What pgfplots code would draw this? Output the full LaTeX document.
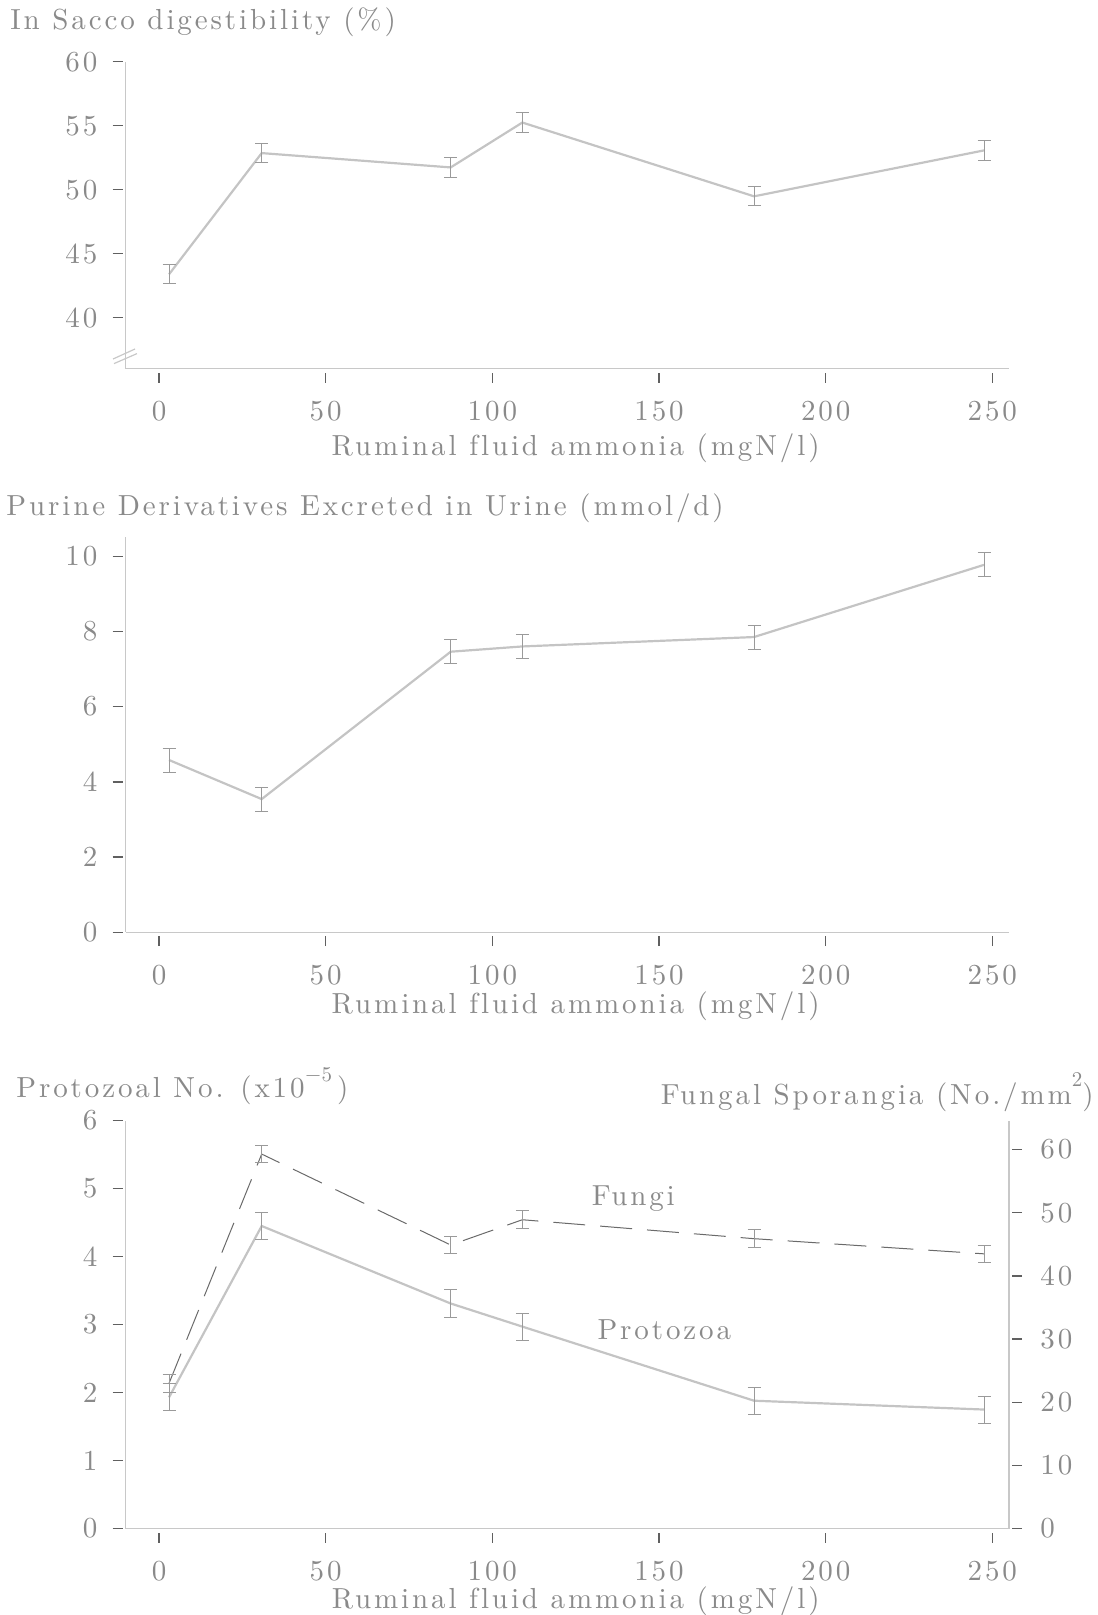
\documentclass[border=0pt]{standalone}
\usepackage{fontspec}
\setmainfont{lmroman10-regular.otf}[LetterSpace=10, Ligatures=NoCommon]
\usepackage{pgfplots}
\pgfplotsset{compat=1.18}
\definecolor{txt}{HTML}{8A8A8A}
\definecolor{ln}{HTML}{C4C4C4}
\definecolor{axl}{HTML}{C8C8C8}
\definecolor{tk}{HTML}{606060}
\definecolor{eb}{HTML}{9A9A9A}
\definecolor{fg}{HTML}{6A6A6A}
\newcommand{\fs}{\fontsize{14.5}{17}\selectfont}
\pgfplotsset{
  panel/.style={
    scale only axis, width=441.65pt,
    xmin=-10, xmax=255, xtick={0,50,...,250},
    axis x line*=bottom, axis y line*=left,
    axis line style={draw=axl, line width=0.7pt},
    tick align=inside, major tick length=5pt,
    xtick style={draw=tk, line width=0.7pt, yshift=-7pt},
    ytick style={draw=tk, line width=0.7pt, xshift=-6.5pt},
    minor tick num=0,
    /pgf/number format/assume math mode=true,
    tick label style={font=\fs, text=txt},
    xticklabel style={anchor=north, inner sep=0pt, yshift=-16pt},
    yticklabel style={anchor=east, inner sep=0pt, xshift=-14pt},
    label style={font=\fs, text=txt},
    xlabel={Ruminal fluid ammonia (mgN/l)},
    clip=false,
  },
  errs/.style={mark=none,
    error bars/.cd, y dir=both, y explicit,
    error bar style={draw=eb, line width=0.45pt, solid},
    error mark options={rotate=90, mark size=3.25pt, draw=eb, line width=0.45pt, solid}},
}
\begin{document}
\begin{tikzpicture}
\useasboundingbox (0,0) rectangle (548.5pt,-807.5pt);
% ---------- top panel ----------
\begin{axis}[panel, at={(62.85pt,-184.35pt)}, anchor=south west,
  height=153.45pt, ymin=36, ymax=60, ytick={40,45,...,60},
  xlabel style={at={(axis description cs:0.5094,0)}, anchor=center, yshift=-40pt}]
\addplot[draw=ln, line width=1.1pt, errs] coordinates {
 (3,43.38) +- (0,0.75)
 (30.8,52.86) +- (0,0.75)
 (87.5,51.74) +- (0,0.75)
 (109,55.25) +- (0,0.75)
 (178.5,49.48) +- (0,0.75)
 (247.5,53.07) +- (0,0.75)
};
\end{axis}
\draw[axl, line width=0.6pt] (56.5pt,-179.5pt) -- (67.5pt,-174.5pt);
\draw[axl, line width=0.6pt] (57pt,-181.8pt) -- (68.5pt,-176.8pt);
\node[anchor=west, inner sep=0pt, text=txt, font=\fs] at (5pt,-11.35pt) {In Sacco digestibility (\%)};
% ---------- middle panel ----------
\begin{axis}[panel, at={(62.85pt,-466.1pt)}, anchor=south west,
  height=197.4pt, ymin=0, ymax=10.5, ytick={0,2,...,10},
  xticklabel style={yshift=-0.5pt},
  xlabel style={at={(axis description cs:0.5094,0)}, anchor=center, yshift=-37pt}]
\addplot[draw=ln, line width=1.1pt, errs] coordinates {
 (3,4.58) +- (0,0.32)
 (30.8,3.54) +- (0,0.32)
 (87.5,7.46) +- (0,0.32)
 (109,7.60) +- (0,0.32)
 (178.5,7.85) +- (0,0.32)
 (247.5,9.77) +- (0,0.32)
};
\end{axis}
\node[anchor=west, inner sep=0pt, text=txt, font=\fs] at (3pt,-254pt) {Purine Derivatives Excreted in Urine (mmol/d)};
% ---------- bottom panel ----------
\begin{axis}[panel, at={(62.85pt,-764.25pt)}, anchor=south west,
  height=203.95pt, ymin=0, ymax=6, ytick={0,1,...,6},
  xlabel style={at={(axis description cs:0.5094,0)}, anchor=center, yshift=-36.5pt}]
\addplot[draw=ln, line width=1.1pt, errs] coordinates {
 (3,1.93) +- (0,0.2)
 (30.8,4.45) +- (0,0.2)
 (87.5,3.31) +- (0,0.2)
 (109,2.97) +- (0,0.2)
 (178.5,1.88) +- (0,0.2)
 (247.5,1.75) +- (0,0.2)
};
\node[text=txt, font=\fs] at (axis cs:142.3,4.86) {Fungi};
\node[text=txt, font=\fs] at (axis cs:151.6,2.93) {Protozoa};
\end{axis}
\begin{axis}[scale only axis, width=441.65pt, height=203.95pt,
  at={(62.85pt,-764.25pt)}, anchor=south west,
  xmin=-10, xmax=255, ymin=0, ymax=64.6, ytick={0,10,...,60},
  axis x line=none, axis y line*=right,
  axis line style={draw=axl, line width=0.7pt},
  tick align=inside, major tick length=5pt,
  ytick style={draw=tk, line width=0.7pt, xshift=6.5pt},
  /pgf/number format/assume math mode=true,
  tick label style={font=\fs, text=txt},
  yticklabel style={anchor=west, inner sep=0pt, xshift=15.5pt},
  clip=false]
\addplot[draw=fg, line width=0.5pt, dash pattern=on 16pt off 7.5pt, errs] coordinates {
 (3,23) +- (0,1.4)
 (30.8,59.3) +- (0,1.4)
 (87.5,44.9) +- (0,1.4)
 (109,48.9) +- (0,1.4)
 (178.5,45.9) +- (0,1.4)
 (247.5,43.5) +- (0,1.4)
};
\end{axis}
\node[anchor=west, inner sep=0pt, text=txt, font=\fs] at (8pt,-543pt) {Protozoal No. (x10\raisebox{1.3ex}{\fontsize{10.5}{12}\selectfont $-$5}\,)};
\node[anchor=east, inner sep=0pt, text=txt, font=\fs] at (547pt,-546pt) {Fungal Sporangia (No./mm\raisebox{1.4ex}{\fontsize{10.5}{12}\selectfont 2})};
\end{tikzpicture}
\end{document}
